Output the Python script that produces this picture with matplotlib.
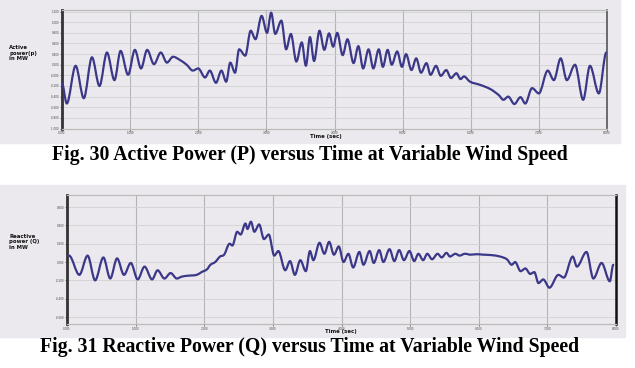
import matplotlib
matplotlib.use('Agg')
import matplotlib.pyplot as plt
import numpy as np
from matplotlib.path import Path
from matplotlib.patches import PathPatch, Rectangle

# Fig. 30 - active power, peaks/troughs
t_p = [0.00, 0.07, 0.20, 0.32, 0.44, 0.55, 0.66, 0.77, 0.86, 0.97,
       1.07, 1.16, 1.25, 1.35, 1.45, 1.54, 1.63, 1.73, 1.83, 1.92,
       2.00, 2.10, 2.17, 2.26, 2.34, 2.41, 2.47, 2.54, 2.60, 2.69,
       2.77, 2.84, 2.93, 3.01, 3.07, 3.13, 3.22, 3.29, 3.36, 3.44,
       3.52, 3.58, 3.64, 3.70, 3.78, 3.85, 3.92, 3.98, 4.04, 4.12,
       4.19, 4.28, 4.35, 4.42, 4.50, 4.57, 4.65, 4.71, 4.78, 4.84,
       4.92, 4.99, 5.05, 5.13, 5.20, 5.27, 5.35, 5.41, 5.49, 5.56,
       5.64, 5.71, 5.79, 5.85, 5.90, 5.99, 6.14, 6.29, 6.41, 6.48,
       6.55, 6.64, 6.73, 6.80, 6.90, 7.00, 7.13, 7.22, 7.32, 7.41,
       7.53, 7.65, 7.75, 7.88, 7.99]
p_mw = [-0.15, -0.53, 0.18, -0.43, 0.34, -0.20, 0.43, -0.09, 0.46, 0.01,
        0.48, 0.13, 0.48, 0.21, 0.43, 0.24, 0.35, 0.29, 0.20, 0.09,
        0.13, -0.04, 0.09, -0.14, 0.09, -0.12, 0.24, 0.05, 0.49, 0.37,
        0.84, 0.68, 1.12, 0.80, 1.18, 0.78, 1.03, 0.49, 0.78, 0.26,
        0.62, 0.18, 0.72, 0.27, 0.84, 0.48, 0.79, 0.54, 0.80, 0.38,
        0.68, 0.23, 0.55, 0.13, 0.49, 0.13, 0.49, 0.16, 0.48, 0.20,
        0.45, 0.16, 0.40, 0.10, 0.32, 0.05, 0.23, 0.01, 0.18, -0.01,
        0.10, -0.05, 0.04, -0.07, -0.02, -0.12, -0.18, -0.26, -0.37, -0.46,
        -0.40, -0.54, -0.41, -0.53, -0.24, -0.34, 0.09, -0.09, 0.32, -0.09,
        0.20, -0.46, 0.18, -0.34, 0.43]

# Fig. 31 - reactive power
t_q = [0.00, 0.03, 0.18, 0.30, 0.41, 0.53, 0.63, 0.73, 0.83, 0.93,
       1.03, 1.13, 1.24, 1.32, 1.42, 1.51, 1.60, 1.67, 1.75, 1.89,
       1.96, 2.04, 2.09, 2.16, 2.23, 2.29, 2.37, 2.41, 2.48, 2.53,
       2.60, 2.63, 2.68, 2.73, 2.80, 2.87, 2.94, 3.02, 3.08, 3.18,
       3.25, 3.32, 3.40, 3.48, 3.54, 3.59, 3.68, 3.75, 3.82, 3.89,
       3.96, 4.03, 4.10, 4.17, 4.26, 4.32, 4.41, 4.47, 4.55, 4.61,
       4.70, 4.77, 4.84, 4.91, 4.99, 5.06, 5.12, 5.19, 5.25, 5.32,
       5.40, 5.46, 5.53, 5.58, 5.66, 5.72, 5.80, 5.88, 5.97, 6.07,
       6.19, 6.31, 6.41, 6.48, 6.53, 6.61, 6.68, 6.75, 6.81, 6.87,
       6.94, 7.03, 7.16, 7.24, 7.37, 7.43, 7.57, 7.67, 7.79, 7.91,
       7.96]
q_mw = [0.06, 0.07, -0.14, 0.07, -0.20, 0.05, -0.18, 0.04, -0.14, -0.01,
        -0.19, -0.05, -0.19, -0.09, -0.18, -0.12, -0.18, -0.16, -0.15, -0.14,
        -0.11, -0.08, -0.03, 0.00, 0.06, 0.08, 0.20, 0.18, 0.33, 0.30,
        0.42, 0.36, 0.44, 0.33, 0.41, 0.25, 0.30, 0.07, 0.12, -0.09,
        0.01, -0.14, 0.02, -0.10, 0.12, 0.02, 0.21, 0.09, 0.22, 0.08,
        0.17, 0.00, 0.09, -0.06, 0.11, -0.03, 0.12, -0.01, 0.13, 0.00,
        0.14, 0.01, 0.13, 0.02, 0.12, 0.01, 0.09, 0.02, 0.09, 0.03,
        0.09, 0.05, 0.10, 0.06, 0.09, 0.07, 0.09, 0.08, 0.085, 0.08,
        0.075, 0.06, 0.03, -0.03, 0.00, -0.10, -0.07, -0.13, -0.11, -0.23,
        -0.19, -0.28, -0.14, -0.17, 0.06, -0.05, 0.11, -0.18, -0.01, -0.21,
        -0.03]

p_ticks = np.round(np.arange(-1.0, 1.21, 0.2), 1)
q_ticks = np.round(np.arange(-0.6, 0.61, 0.2), 1)
time_ticks = list(range(9))

W, H = 635, 368
BG = '#ebe9ed'
LINE = '#3b3889'


def box(x0, y0, x1, y1):
    # pixel box -> figure fraction
    return [x0 / W, 1 - y1 / H, (x1 - x0) / W, (y1 - y0) / H]


def smooth_line(ax, t, v):
    # bezier curve through the read points, flat at the turning points
    t = np.asarray(t, float)
    v = np.asarray(v, float)
    n = len(t)
    slope = np.zeros(n)
    for i in range(1, n - 1):
        if (v[i] - v[i - 1]) * (v[i + 1] - v[i]) > 0:
            slope[i] = (v[i + 1] - v[i - 1]) / (t[i + 1] - t[i - 1])
    verts = [(t[0], v[0])]
    codes = [Path.MOVETO]
    for i in range(n - 1):
        h = (t[i + 1] - t[i]) / 3
        verts += [(t[i] + h, v[i] + slope[i] * h),
                  (t[i + 1] - h, v[i + 1] - slope[i + 1] * h),
                  (t[i + 1], v[i + 1])]
        codes += [Path.CURVE4] * 3
    ax.add_patch(PathPatch(Path(verts, codes), fill=False, edgecolor=LINE,
                           lw=1.6, capstyle='round', joinstyle='round', zorder=3))


def style(ax, yticks, ylim, right_color, right_lw):
    ax.set_facecolor(BG)
    ax.set_xlim(0, 8)
    ax.set_ylim(*ylim)
    ax.set_xticks(time_ticks)
    ax.set_xticklabels(['%.3f' % x for x in time_ticks])
    ax.set_yticks(yticks)
    ax.set_yticklabels(['%.3f' % y for y in yticks])
    ax.grid(axis='x', color='#b4b4b4', lw=0.8)
    ax.grid(axis='y', color='#d2d2d2', lw=0.6)
    ax.set_axisbelow(True)
    ax.tick_params(labelsize=2.0, length=1.2, width=0.5, pad=0.6,
                   colors='#444444')
    ax.spines['left'].set_color('#333333')
    ax.spines['left'].set_linewidth(2.0)
    ax.spines['right'].set_color(right_color)
    ax.spines['right'].set_linewidth(right_lw)
    ax.spines['top'].set_color('#bbbbbb')
    ax.spines['top'].set_linewidth(0.9)
    ax.spines['bottom'].set_color('#bbbbbb')
    ax.spines['bottom'].set_linewidth(0.9)


fig = plt.figure(figsize=(6.35, 3.68), dpi=100)
fig.add_artist(Rectangle((0, 1 - 143 / H), 620 / W, 143 / H,
                         transform=fig.transFigure, color=BG, zorder=0))
fig.add_artist(Rectangle((0, 1 - 337 / H), 625 / W, 152 / H,
                         transform=fig.transFigure, color=BG, zorder=0))

ax1 = fig.add_axes(box(62, 10, 607, 128.5))
style(ax1, p_ticks, (-1.0, 1.23), '#555555', 1.2)
smooth_line(ax1, t_p, p_mw)

ax2 = fig.add_axes(box(67, 195, 616, 324))
style(ax2, q_ticks, (-0.676, 0.731), '#111111', 1.8)
smooth_line(ax2, t_q, q_mw)

lab = dict(fontsize=3.9, fontweight='bold', color='#111111', ha='left',
           va='center', linespacing=1.05)
fig.text(9 / W, 1 - 53 / H, 'Active\npower(p)\nin MW', **lab)
fig.text(9 / W, 1 - 242 / H, 'Reactive\npower (Q)\nin MW', **lab)
fig.text(310 / W, 1 - 136.5 / H, 'Time (sec)', **lab)
fig.text(325 / W, 1 - 332 / H, 'Time (sec)', **lab)

cap = dict(fontsize=14.2, fontweight='bold', family='Liberation Serif',
           ha='center', va='center', color='black')
fig.text(310 / W, 1 - 155 / H,
         'Fig. 30 Active Power (P) versus Time at Variable Wind Speed', **cap)
fig.text(310 / W, 1 - 347 / H,
         'Fig. 31 Reactive Power (Q) versus Time at Variable Wind Speed', **cap)

fig.savefig('out.png', dpi=100)
